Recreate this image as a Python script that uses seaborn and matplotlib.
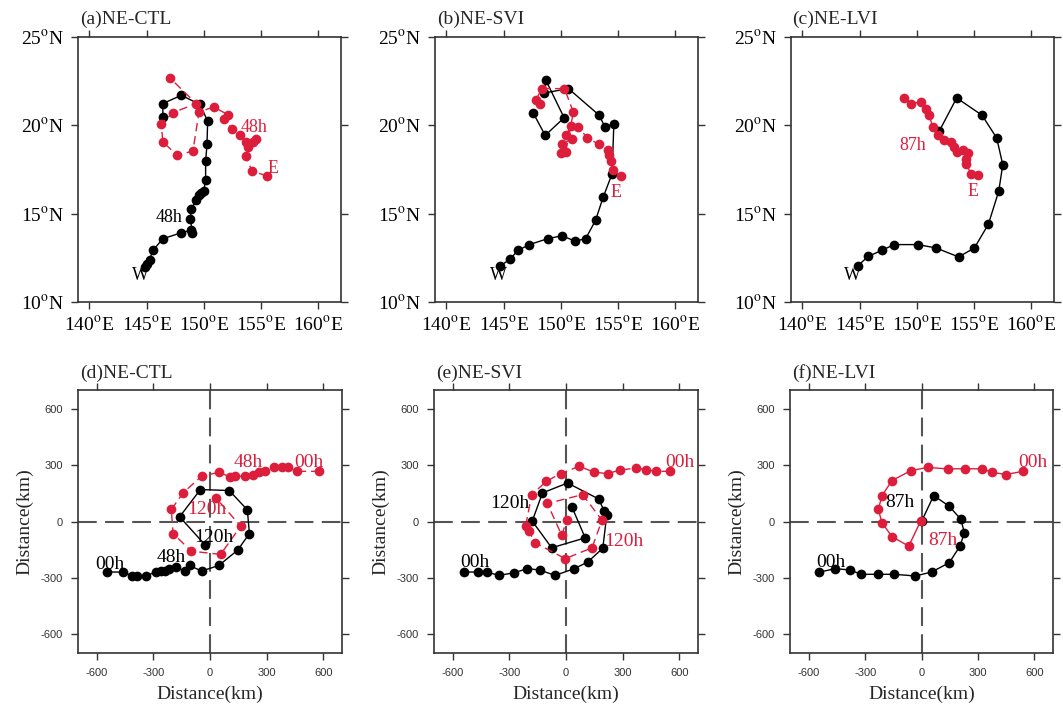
import matplotlib
matplotlib.use("Agg")
import matplotlib.pyplot as plt
import seaborn as sns
import pandas as pd

# ---------------- track data (lon/lat) ----------------
ctl_w_lon = [144.82, 145.05, 145.26, 145.55, 146.42, 148.03, 148.91, 149.0, 148.82, 148.91, 149.34,
             149.55, 149.78, 149.99, 150.16, 150.16, 150.28, 150.34, 149.64, 148.03, 146.42, 146.42]
ctl_w_lat = [11.98, 12.17, 12.40, 12.92, 13.58, 13.92, 14.06, 13.92, 14.72, 15.28, 15.75,
             16.04, 16.17, 16.26, 16.92, 17.96, 18.92, 20.25, 21.19, 21.70, 21.23, 20.47]
ctl_e_lon = [155.53, 154.22, 153.66, 153.90, 154.60, 154.31, 153.72, 153.20, 152.47, 151.74, 152.12,
             150.86, 149.58, 149.05, 147.68, 146.42, 146.28, 147.30, 149.34, 147.01]
ctl_e_lat = [17.13, 17.42, 18.26, 18.77, 19.21, 19.06, 19.06, 19.43, 19.77, 20.38, 20.60,
             21.04, 20.75, 18.55, 18.30, 19.06, 20.09, 20.72, 21.23, 22.70]

svi_w_lon = [144.72, 145.54, 146.26, 147.25, 148.84, 150.09, 151.25, 152.17, 153.04, 153.71, 154.49,
             154.64, 153.86, 153.36, 150.67, 148.55, 148.70, 150.29, 148.64, 147.57]
svi_w_lat = [12.04, 12.42, 12.92, 13.25, 13.58, 13.75, 13.45, 13.58, 14.62, 15.94, 17.26,
             20.09, 19.91, 20.57, 22.08, 21.83, 22.55, 20.43, 19.43, 20.72]
svi_e_lon = [155.30, 154.58, 154.38, 154.20, 154.09, 153.36, 152.32, 151.54, 150.90, 150.43, 150.96,
             150.14, 150.03, 150.43, 151.10, 150.32, 148.35, 147.83, 148.14]
svi_e_lat = [17.13, 17.45, 17.96, 18.34, 18.62, 18.92, 19.28, 19.91, 19.94, 19.43, 19.25,
             18.92, 18.45, 18.49, 20.75, 22.08, 22.08, 21.45, 21.19]

lvi_w_lon = [144.82, 145.75, 146.92, 148.03, 150.07, 151.68, 153.66, 155.04, 156.26, 157.17, 157.52,
             156.99, 155.71, 153.49, 151.97]
lvi_w_lat = [12.04, 12.58, 12.92, 13.25, 13.25, 13.06, 12.55, 13.06, 14.40, 16.28, 17.77,
             19.28, 20.57, 21.55, 19.68]
lvi_e_lon = [155.33, 154.74, 154.31, 154.31, 154.45, 154.01, 153.49, 153.28, 152.99, 152.41, 151.82,
             151.39, 151.09, 150.80, 150.36, 149.49, 148.91]
lvi_e_lat = [17.17, 17.26, 17.83, 18.11, 18.43, 18.58, 18.49, 18.77, 19.06, 19.15, 19.43,
             19.91, 20.57, 20.94, 21.32, 21.23, 21.55]

# ---------------- relative-position data (km) ----------------
ctl_w_x = [-548, -460, -413, -388, -342, -289, -262, -241, -218, -179, -134, -108, -45, 47, 147,
           209, 198, 102, -51, -161, -24]
ctl_w_y = [-269, -269, -290, -290, -290, -269, -264, -264, -251, -243, -264, -234, -264, -234, -152,
           -64, 62, 165, 170, 25, -127]
ctl_e_x = [580, 461, 412, 381, 340, 292, 262, 230, 186, 132, 106, 49, -45, -143, -205, -196, -99,
           56, 163, 31]
ctl_e_y = [267, 267, 288, 288, 288, 267, 262, 250, 241, 241, 237, 262, 241, 152, 64, -64, -158,
           -175, -25, 126]

svi_w_x = [-540, -467, -419, -357, -276, -205, -140, -58, 44, 115, 195, 216, 203, 173, 8, -125,
           -179, -76, 102, 31]
svi_w_y = [-269, -269, -269, -287, -273, -251, -258, -287, -251, -216, -142, 32, 55, 120, 205, 152,
           2, -140, -87, 78]
svi_e_x = [550, 476, 426, 369, 284, 221, 150, 70, -28, -104, -182, -214, -196, -164, -4, 138, 191,
           88, -99, -22, 3]
svi_e_y = [267, 267, 276, 285, 273, 255, 262, 294, 255, 214, 143, -25, -51, -113, -198, -140, 7,
           143, 96, -74, 7]

lvi_w_x = [-543, -458, -380, -322, -234, -145, -33, 54, 148, 205, 228, 210, 148, 65, 1]
lvi_w_y = [-269, -251, -258, -281, -281, -281, -290, -269, -219, -131, -60, 11, 81, 138, 2]
lvi_e_x = [538, 449, 375, 322, 233, 139, 33, -56, -157, -210, -230, -210, -157, -68, -3]
lvi_e_y = [267, 250, 262, 280, 281, 280, 288, 271, 218, 138, 64, -7, -81, -131, 5]

# ---------------- text annotations ----------------
top_titles = ["(a)NE-CTL", "(b)NE-SVI", "(c)NE-LVI"]
bottom_titles = ["(d)NE-CTL", "(e)NE-SVI", "(f)NE-LVI"]
lon_ticks = [140, 145, 150, 155, 160]
lat_ticks = [10, 15, 20, 25]
dist_ticks = [-600, -300, 0, 300, 600]

RED = "#DC1E3C"
BLACK = "black"
SERIF = "Liberation Serif"
SANS = "Liberation Sans"

sns.set_theme(style="ticks")
plt.rcParams["font.family"] = [SERIF, "DejaVu Serif"]
plt.rcParams["mathtext.fontset"] = "stix"
plt.rcParams["axes.unicode_minus"] = False

fig = plt.figure(figsize=(10.63, 7.11), dpi=100)
W, H = 1063, 711


def add_axes(x0, x1, y0, y1):
    return fig.add_axes([x0 / W, 1 - y1 / H, (x1 - x0) / W, (y1 - y0) / H])


def draw_track(ax, xs, ys, color, dashed):
    df = pd.DataFrame({"x": xs, "y": ys})
    ls = (0, (6, 3.5)) if dashed else "-"
    sns.lineplot(data=df, x="x", y="y", sort=False, estimator=None, ax=ax,
                 color=color, linewidth=1.0, linestyle=ls, marker="o",
                 markersize=7.0, markeredgewidth=0, markerfacecolor=color, zorder=3)


def style_frame(ax, serif_labels):
    for sp in ax.spines.values():
        sp.set_color("#333333")
        sp.set_linewidth(1.2)
    ax.tick_params(direction="out", top=True, right=True, length=5, width=1.0,
                   color="#333333")
    if serif_labels:
        ax.tick_params(labelsize=14, pad=5, labelcolor="black")
    else:
        ax.tick_params(labelsize=8, pad=6, labelcolor="#333333")
        for lab in ax.get_xticklabels() + ax.get_yticklabels():
            lab.set_family(SANS)


# ---------------- top row: tracks in lon/lat ----------------
top_boxes = [(78, 341), (435, 698), (791, 1054)]
top_title_x = [80, 437, 792]
tracks = [
    (ctl_w_lon, ctl_w_lat, ctl_e_lon, ctl_e_lat, True),
    (svi_w_lon, svi_w_lat, svi_e_lon, svi_e_lat, True),
    (lvi_w_lon, lvi_w_lat, lvi_e_lon, lvi_e_lat, False),
]
top_labels = [
    [("48h", 147.0, 14.81, BLACK), ("W", 144.5, 11.5, BLACK),
     ("48h", 154.36, 19.87, RED), ("E", 156.06, 17.55, RED)],
    [("W", 144.52, 11.5, BLACK), ("E", 154.87, 16.17, RED)],
    [("W", 144.38, 11.5, BLACK), ("E", 154.89, 16.23, RED), ("87h", 149.69, 18.87, RED)],
]
for i, (x0, x1) in enumerate(top_boxes):
    ax = add_axes(x0, x1, 37, 302)
    wl, wt, el, et, dashed = tracks[i]
    draw_track(ax, wl, wt, BLACK, False)
    draw_track(ax, el, et, RED, dashed)
    ax.set_xlim(139, 162)
    ax.set_ylim(10, 25)
    ax.set_xticks(lon_ticks)
    ax.set_yticks(lat_ticks)
    ax.set_xticklabels([rf"{v}$^{{\rm o}}$E" for v in lon_ticks])
    ax.set_yticklabels([rf"{v}$^{{\rm o}}$N" for v in lat_ticks])
    ax.set_xlabel("")
    ax.set_ylabel("")
    style_frame(ax, True)
    for txt, tx, ty, c in top_labels[i]:
        ax.text(tx, ty, txt, color=c, fontsize=13, ha="center", va="center",
                family=SERIF, zorder=4)
    fig.text(top_title_x[i] / W, 1 - 19 / H, top_titles[i], fontsize=14,
             ha="left", va="center", family=SERIF)

# ---------------- bottom row: relative positions ----------------
bot_boxes = [(78, 342), (434, 698), (790, 1053)]
rel = [
    (ctl_w_x, ctl_w_y, ctl_e_x, ctl_e_y, True),
    (svi_w_x, svi_w_y, svi_e_x, svi_e_y, True),
    (lvi_w_x, lvi_w_y, lvi_e_x, lvi_e_y, False),
]
bot_labels = [
    [("00h", -531, -228, BLACK), ("48h", -206, -193, BLACK), ("120h", 20, -87, BLACK),
     ("48h", 203, 315, RED), ("00h", 524, 315, RED), ("120h", -19, 64, RED)],
    [("00h", -481, -219, BLACK), ("120h", -300, 96, BLACK),
     ("00h", 604, 315, RED), ("120h", 305, -104, RED)],
    [("00h", -485, -219, BLACK), ("87h", -113, 99, BLACK),
     ("00h", 595, 315, RED), ("87h", 116, -99, RED)],
]
for i, (x0, x1) in enumerate(bot_boxes):
    ax = add_axes(x0, x1, 390, 653)
    ax.axhline(0, color="#555555", linewidth=1.5, linestyle=(0, (9, 4)), zorder=1)
    ax.axvline(0, color="#555555", linewidth=1.5, linestyle=(0, (9, 4)), zorder=1)
    wx, wy, ex, ey, dashed = rel[i]
    draw_track(ax, wx, wy, BLACK, False)
    draw_track(ax, ex, ey, RED, dashed)
    ax.set_xlim(-700, 700)
    ax.set_ylim(-700, 700)
    ax.set_xticks(dist_ticks)
    ax.set_yticks(dist_ticks)
    ax.set_xlabel("Distance(km)", fontsize=14, family=SERIF)
    ax.set_ylabel("Distance(km)", fontsize=14, family=SERIF)
    ax.xaxis.set_label_coords(0.5, -0.125)
    ax.yaxis.set_label_coords(-0.17, 0.5)
    style_frame(ax, False)
    for txt, tx, ty, c in bot_labels[i]:
        ax.text(tx, ty, txt, color=c, fontsize=14, ha="center", va="center",
                family=SERIF, zorder=4)
    fig.text((x0 + 2) / W, 1 - 373 / H, bottom_titles[i], fontsize=14,
             ha="left", va="center", family=SERIF)

fig.savefig("out.png", dpi=100, facecolor="white")
